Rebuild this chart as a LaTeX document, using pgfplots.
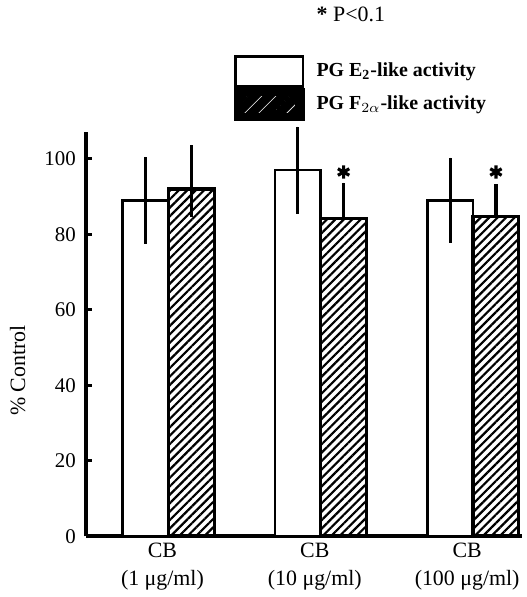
\documentclass[border=0pt]{standalone}
\usepackage{pgfplots}
\pgfplotsset{compat=1.18}
\usepackage{fontspec}
\setmainfont{Liberation Serif}
\usetikzlibrary{patterns.meta}
\begin{document}
\begin{tikzpicture}
\begin{axis}[
    scale only axis,
    width=219pt, height=203pt,
    ybar,
    bar width=0.30,
    xmin=-0.54, xmax=2.32,
    ymin=0, ymax=107,
    xtick={0,1,2},
    xticklabels={CB\\(1 μg/ml), CB\\(10 μg/ml), CB\\(100 μg/ml)},
    xticklabel style={align=center, font=\fontsize{11}{14}\selectfont, xshift=-3pt},
    ytick={0,20,40,60,80,100},
    yticklabel style={font=\fontsize{10.5}{12}\selectfont, inner xsep=0pt, xshift=-5pt},
    /pgf/number format/assume math mode=true,
    axis x line=bottom, axis y line=left,
    axis line style={-, line width=2pt},
    x tick style={draw=none},
    y tick style={line width=1.4pt, black},
    major tick length=3pt,
    tick align=inside,
    ylabel={\% Control},
    ylabel style={font=\fontsize{11}{13}\selectfont,
        at={(axis description cs:-0.1986,0.41)}, anchor=north, inner sep=5pt},
    clip=false,
    legend style={at={(0.338,1.192)}, anchor=north west, draw=none, fill=none,
        row sep=0pt, column sep=6pt, inner sep=0pt,
        font=\fontsize{10}{12}\selectfont\bfseries,
        nodes={inner sep=0pt, minimum height=15pt}},
    legend cell align=left,
    error bars/y dir=both,
    error bars/y explicit,
    error bars/error mark=none,
    error bars/error bar style={line width=1.6pt, black},
]
\addplot[bar shift=-0.15, fill=white, draw=black, line width=1.3pt,
    legend image code/.code={\draw[fill=white, draw=black, line width=1.3pt] (0pt,-7.5pt) rectangle (34pt,7.5pt);}]
    coordinates {(0,89) +- (0,11.5) (1,97) +- (0,11.5) (2,89) +- (0,11.3)};
\addlegendentry{PG E\textsubscript{2}-like activity}
\addplot[bar shift=0.15, draw=black, line width=1.6pt,
    pattern={Lines[angle=45, distance=3pt, line width=1.1pt]},
    legend image code/.code={
        \fill[black] (0pt,-7.5pt) rectangle (34pt,7.5pt);
        \fill[pattern={Lines[angle=45, distance=5pt, line width=0.4pt]}, pattern color=white!85!black] (3pt,-5pt) rectangle (31pt,5pt);
        \draw[draw=black, line width=1.6pt] (0pt,-7.5pt) rectangle (34pt,7.5pt);}]
    coordinates {(0,92) += (0,11.7) -= (0,7.5) (1,84.2) += (0,9.5) -= (0,0) (2,84.7) += (0,8.5) -= (0,0)};
\addlegendentry{PG F$_{2\alpha}$-like activity}
\addplot[only marks, forget plot, mark=asterisk, mark size=3.3pt, line width=1.6pt, black, error bars/y dir=none]
    coordinates {(1.15,96.5) (2.15,96.5)};
\node[anchor=west, font=\fontsize{11}{13}\selectfont] at (rel axis cs:0.513,1.293) {\textbf{*} P<0.1};
\end{axis}
\end{tikzpicture}
\end{document}
